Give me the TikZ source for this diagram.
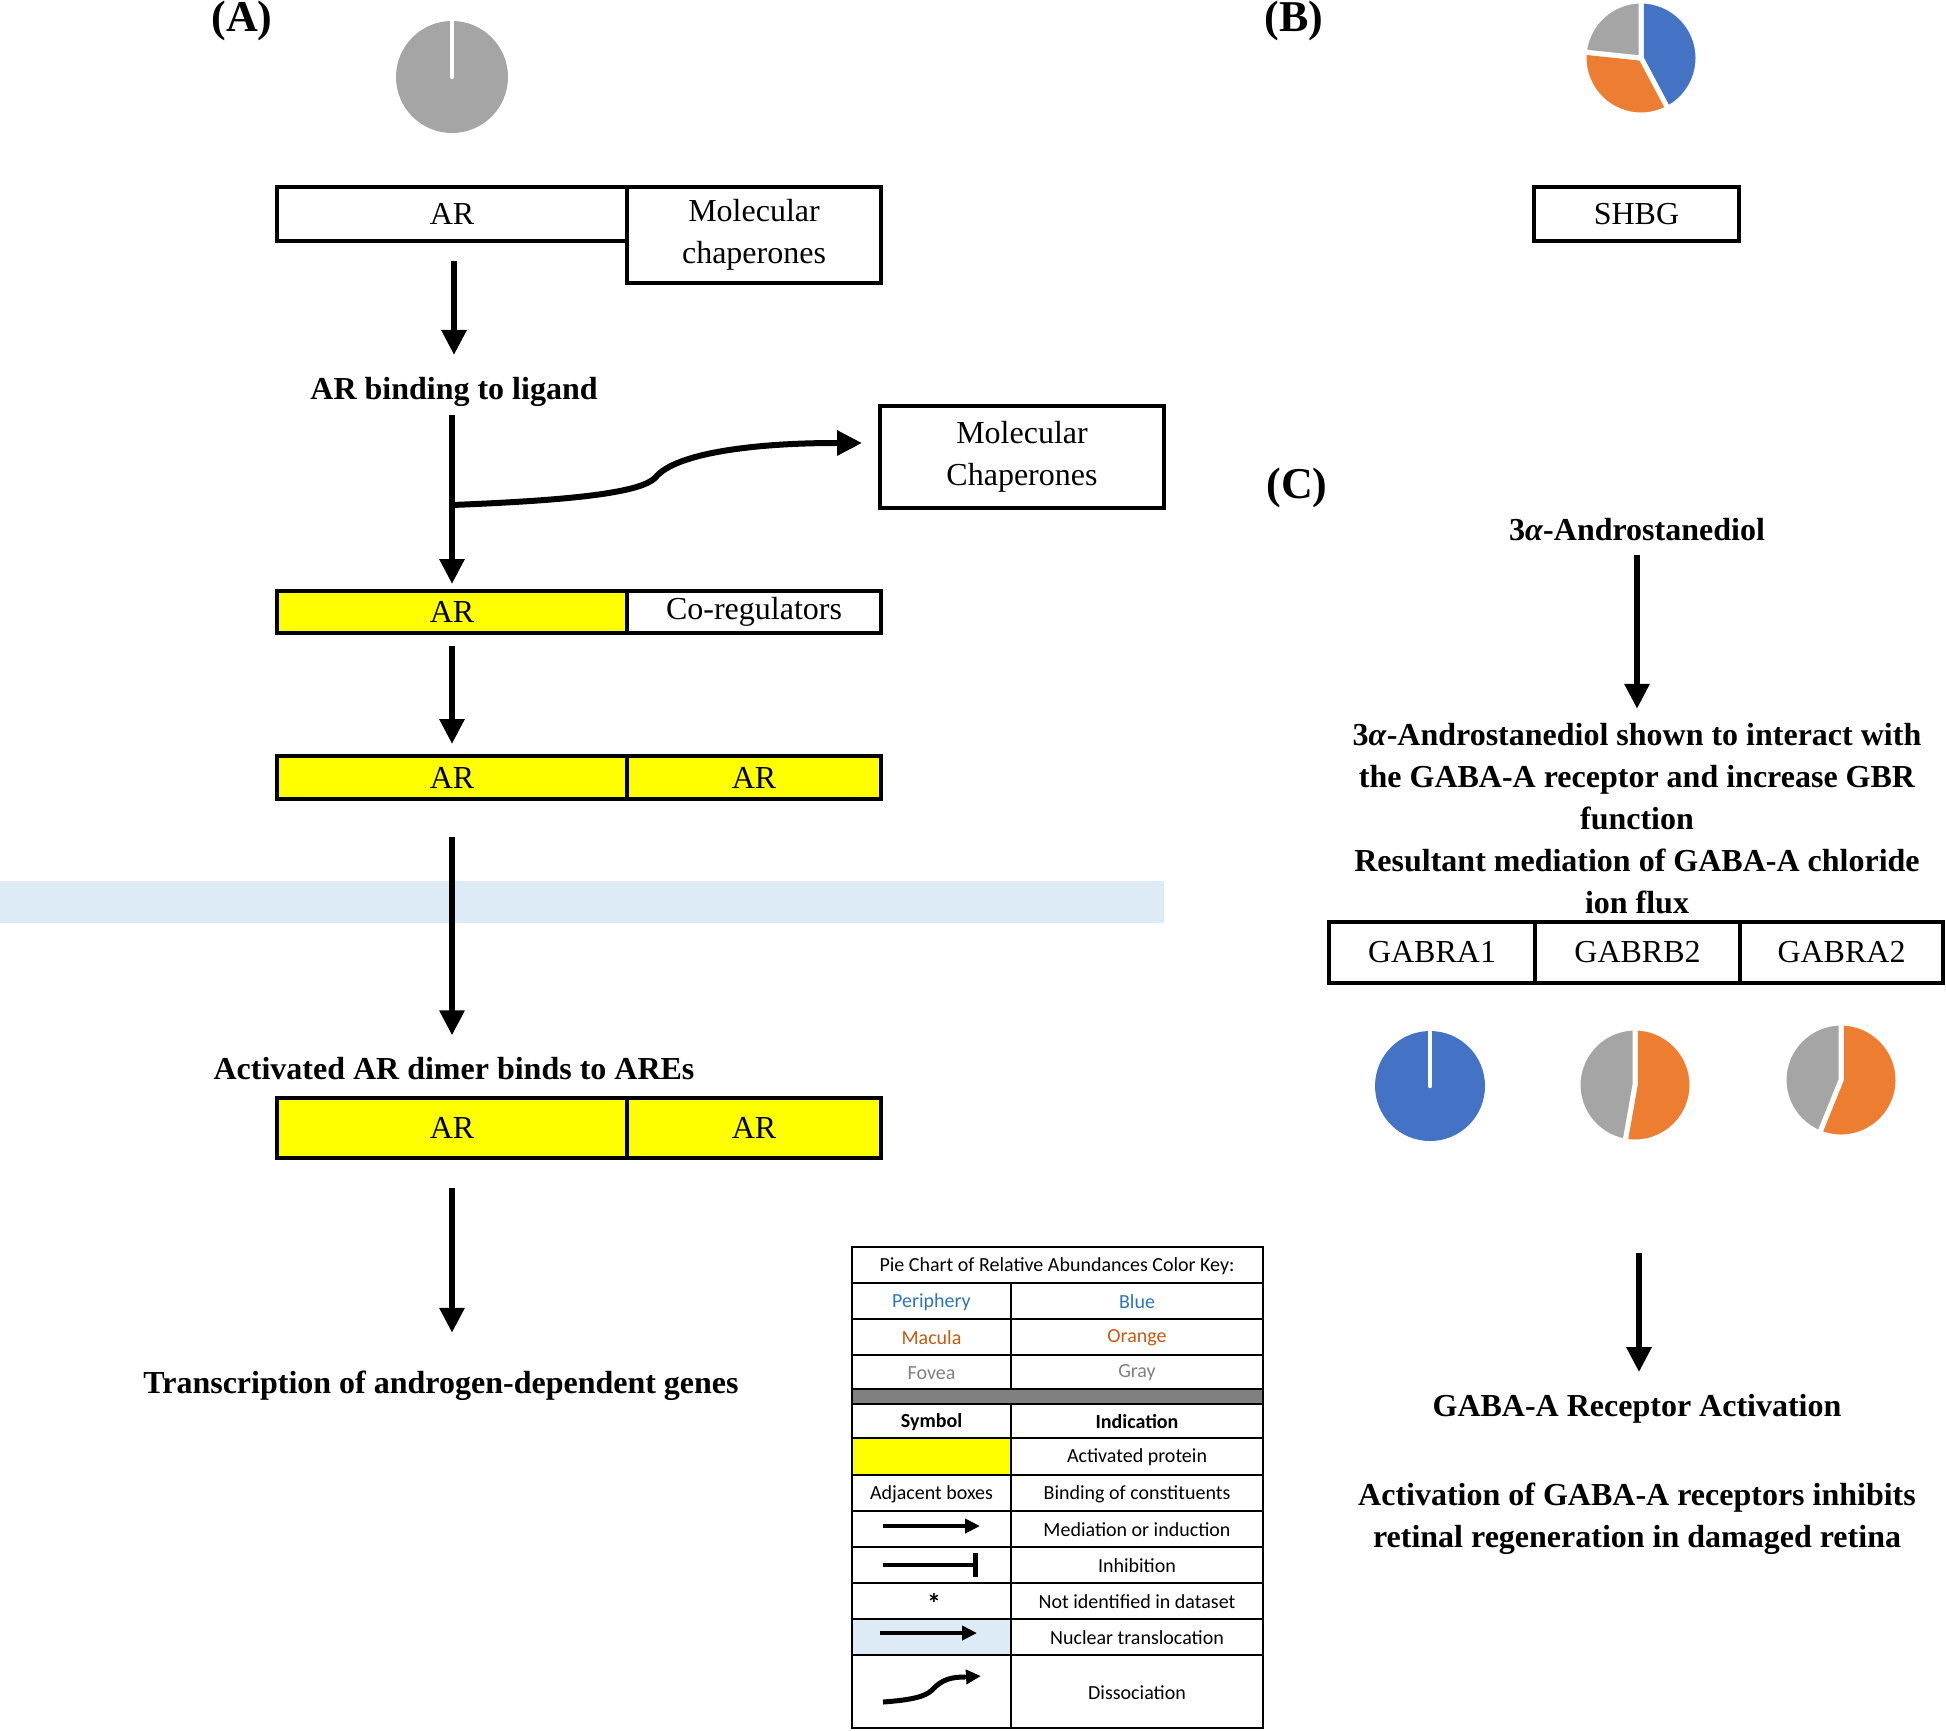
\documentclass[tikz,border=0pt]{standalone}
\usepackage{fontspec}
\setmainfont{Liberation Serif}
\newfontfamily\keyfont{Carlito}
\usepackage{xcolor}
\usetikzlibrary{arrows.meta, positioning}

\definecolor{pieblue}{HTML}{4472C4}
\definecolor{pieorange}{HTML}{ED7D31}
\definecolor{piegray}{HTML}{A5A5A5}
\definecolor{nucband}{HTML}{DDEBF7}
\definecolor{keyblue}{HTML}{2E75B6}
\definecolor{keyorange}{HTML}{C55A11}
\definecolor{keygray}{HTML}{7F7F7F}
\definecolor{bandgray}{HTML}{808080}
\definecolor{actyellow}{HTML}{FFFF00}

\newcommand{\pieslice}[5]{\fill[#5, draw=white, line width=2.5pt, line join=round] #1 -- ++(#3:#2) arc[start angle=#3, end angle=#4, radius=#2] -- cycle;}

\tikzset{
  box/.style={draw, line width=2pt, inner sep=0pt, align=center, font=\fontsize{16pt}{21pt}\selectfont},
  actbox/.style={box, fill=actyellow},
  lbl/.style={font=\bfseries\fontsize{16pt}{21pt}\selectfont, align=center, inner sep=0pt},
  panel/.style={font=\bfseries\fontsize{22pt}{24pt}\selectfont, inner sep=0pt},
  flow/.style={-{Triangle[length=12.5pt,width=12pt]}, line width=3pt},
  keytxt/.style={font=\keyfont\fontsize{10pt}{12pt}\selectfont, inner sep=0pt},
  keyarrow/.style={-{Triangle[length=7.5pt,width=7pt]}, line width=2pt}
}

\begin{document}
\begin{tikzpicture}[x=0.5pt, y=-0.5pt]
\useasboundingbox (0,0) rectangle (1946,1730);
\fill[nucband] (0,881) rectangle (1164,923);

\node[panel] (pA) at (242,21) {(A)};
\fill[piegray] (452,77) circle[radius=28pt];
\draw[white, line width=2.2pt, line cap=round] (452,77) -- ++(90:28pt);

\node[box, minimum width=175pt, minimum height=27pt] (ar1) at (452,214) {AR};
\node[box, minimum width=127pt, minimum height=48pt] (chap1) at (754,235) {Molecular\\chaperones};
\node[lbl] (bind) at (454,392) {AR binding to ligand};
\node[box, minimum width=142pt, minimum height=51pt] (chap2) at (1022,457) {Molecular\\Chaperones};
\node[actbox, minimum width=175pt, minimum height=21pt] (ar2) at (452,612) {AR};
\node[box, minimum width=127pt, minimum height=21pt] (coreg) at (754,612) {Co-regulators};
\node[actbox, minimum width=175pt, minimum height=21.5pt] (ar3) at (452,777.5) {AR};
\node[actbox, minimum width=127pt, minimum height=21.5pt] (ar3b) at (754,777.5) {AR};
\node[lbl] (dimer) at (454,1069) {Activated AR dimer binds to AREs};
\node[actbox, minimum width=175pt, minimum height=30pt] (ar4) at (452,1128) {AR};
\node[actbox, minimum width=127pt, minimum height=30pt] (ar4b) at (754,1128) {AR};
\node[lbl] (genes) at (441,1386) {Transcription of androgen-dependent genes};

\coordinate (split) at (452,505);
\coordinate (dissoc) at (862,443);
\draw[flow, shorten <=9pt, shorten >=11pt] (ar1.south -| bind) -- (bind.north);
\draw[flow, shorten <=4pt, shorten >=2.5pt] (bind.south -| ar2) -- (ar2.north);
\draw[line width=3pt] (split) .. controls (580,500) and (640,492) .. (655,478) .. controls (675,452) and (760,443) .. (835,443);
\draw[flow] (835,443) -- (dissoc);
\draw[flow, shorten <=5.5pt, shorten >=5pt] (ar2.south) -- (ar3.north);
\draw[flow, shorten <=18pt, shorten >=11pt] (ar3.south) -- (ar3.south |- dimer.north);
\draw[flow, shorten <=14pt, shorten >=19pt] (ar4.south) -- (ar4.south |- genes.north);

\node[panel] (pB) at (1294,21) {(B)};
\pieslice{(1641,58)}{28.5pt}{90}{-62}{pieblue}
\pieslice{(1641,58)}{28.5pt}{-62}{-186}{pieorange}
\pieslice{(1641,58)}{28.5pt}{174}{90}{piegray}
\node[box, minimum width=102.5pt, minimum height=27pt] (shbg) at (1636.5,214) {SHBG};

\node[panel] (pC) at (1297,488) {(C)};
\node[lbl] (andro) at (1637,530) {3\textit{α}-Androstanediol};
\node[lbl] (interact) at (1637,818.5) {3\textit{α}-Androstanediol shown to interact with\\the GABA-A receptor and increase GBR\\function\\Resultant mediation of GABA-A chloride\\ion flux};
\draw[flow, shorten <=6.5pt, shorten >=7pt] (andro.south) -- (interact.north);
\node[box, minimum width=103pt, minimum height=30.5pt] (gabra1) at (1432,952.5) {GABRA1};
\node[box, minimum width=102.5pt, minimum height=30.5pt] (gabrb2) at (1637.5,952.5) {GABRB2};
\node[box, minimum width=101.5pt, minimum height=30.5pt] (gabra2) at (1841.5,952.5) {GABRA2};

\fill[pieblue] (1430,1086) circle[radius=27.5pt];
\draw[white, line width=2.2pt, line cap=round] (1430,1086) -- ++(90:27.5pt);
\pieslice{(1635,1085)}{28.5pt}{90}{-100}{pieorange}
\pieslice{(1635,1085)}{28.5pt}{-100}{-270}{piegray}
\pieslice{(1841,1080)}{28.5pt}{90}{-112}{pieorange}
\pieslice{(1841,1080)}{28.5pt}{-112}{-270}{piegray}

\coordinate (gabafree) at (1639,1253);
\node[lbl] (gabaact) at (1637,1409) {GABA-A Receptor Activation};
\node[lbl] (inhib) at (1637,1519) {Activation of GABA-A receptors inhibits\\retinal regeneration in damaged retina};
\draw[flow, shorten >=11pt] (gabafree) -- (gabafree |- gabaact.north);

\fill[actyellow] (852,1438) rectangle (1011,1475);
\fill[nucband] (852,1619) rectangle (1011,1655);
\fill[bandgray] (852,1389) rectangle (1263,1404);
\foreach \yy in {1283,1319,1355,1389,1404,1438,1475,1511,1547,1583,1619,1655}
  \draw[line width=1pt] (852,\yy) -- (1263,\yy);
\draw[line width=1pt] (1011,1283) -- (1011,1389);
\draw[line width=1pt] (1011,1404) -- (1011,1728);
\draw[line width=1.3pt] (852,1247) rectangle (1263,1728);

\node[keytxt] (keyttl) at (1057,1266) {Pie Chart of Relative Abundances Color Key:};
\node[keytxt, text=keyblue] (kperi) at (931.5,1302) {Periphery};
\node[keytxt, text=keyblue] (kblue) at (1137,1302) {Blue};
\node[keytxt, text=keyorange] (kmac) at (931.5,1338) {Macula};
\node[keytxt, text=keyorange] (korange) at (1137,1338) {Orange};
\node[keytxt, text=keygray] (kfov) at (931.5,1373) {Fovea};
\node[keytxt, text=keygray] (kgray) at (1137,1373) {Gray};
\node[keytxt, font=\keyfont\bfseries\fontsize{10pt}{12pt}\selectfont] (ksym) at (931.5,1422) {Symbol};
\node[keytxt, font=\keyfont\bfseries\fontsize{10pt}{12pt}\selectfont] (kind) at (1137,1422) {Indication};
\node[keytxt] (kact) at (1137,1457.5) {Activated protein};
\node[keytxt] (kadj) at (931.5,1494) {Adjacent boxes};
\node[keytxt] (kbind) at (1137,1494) {Binding of constituents};
\node[keytxt] (kmed) at (1137,1530) {Mediation or induction};
\node[keytxt] (kinh) at (1137,1566) {Inhibition};
\node[keytxt, font=\keyfont\bfseries\fontsize{14pt}{14pt}\selectfont] (kstar) at (934,1603) {*};
\node[keytxt] (knot) at (1137,1602) {Not identified in dataset};
\node[keytxt] (knuc) at (1137,1638) {Nuclear translocation};
\node[keytxt] (kdis) at (1137,1692.5) {Dissociation};

\draw[keyarrow] (883,1526) -- (980,1526);
\draw[line width=2pt, -{Bar[width=12pt, line width=2.5pt]}] (883,1565) -- (978,1565);
\draw[keyarrow] (880,1633) -- (977,1633);
\draw[line width=2.5pt] (883,1702) .. controls (910,1700) and (925,1697) .. (932,1690) .. controls (942,1679) and (952,1677) .. (965,1677);
\draw[keyarrow] (964,1677) -- (981,1676);
\end{tikzpicture}
\end{document}
